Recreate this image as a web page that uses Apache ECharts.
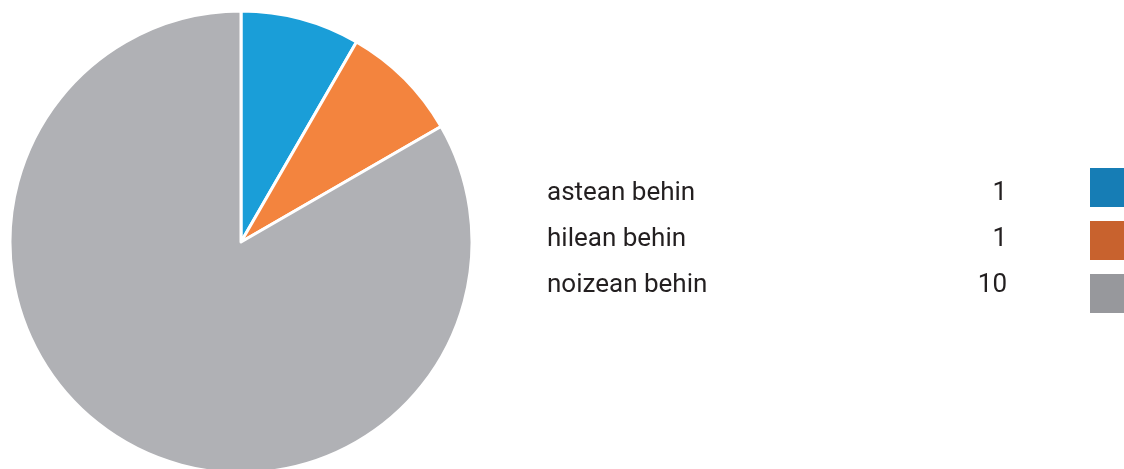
<!DOCTYPE html>
<html lang="en">
<head>
    <meta charset="UTF-8">
    <title>Pie</title>
    <script src="https://cdn.jsdelivr.net/npm/echarts@6/dist/echarts.min.js"></script>
    <style>
        * { padding: 0; margin: 0; }
        html, body { width: 1124px; height: 469px; background: #fff; overflow: hidden; }
        #pie { width: 1124px; height: 469px; }
    </style>
</head>
<body>
    <div id="pie"></div>
<script>
    var names = ['astean behin', 'hilean behin', 'noizean behin'];
    var values = [1, 1, 10];
    var sliceColors = ['#1a9ed8', '#f3843e', '#b0b1b5'];
    var boxColors = ['#167db5', '#c8622e', '#97989c'];

    var font = 'Roboto, "DejaVu Sans Condensed", sans-serif';
    var pie = echarts.init(document.getElementById('pie'));
    var option = {
        animation: false,
        legend: [{
            orient: 'vertical',
            left: 536,
            top: 175,
            itemWidth: 0,
            itemHeight: 0,
            itemGap: 20,
            icon: 'rect',
            selectedMode: false,
            data: names,
            formatter: function (name) {
                return '{n|' + name + '}{v|' + values[names.indexOf(name)] + '}';
            },
            textStyle: {
                fontFamily: font,
                fontSize: 26,
                color: '#231f20',
                rich: {
                    n: { width: 400, fontFamily: font, fontSize: 26, lineHeight: 30, color: '#231f20' },
                    v: { width: 60, align: 'right', fontFamily: font, fontSize: 26, lineHeight: 30, color: '#231f20' }
                }
            }
        }, {
            orient: 'vertical',
            left: 1083,
            top: 161,
            itemWidth: 36,
            itemHeight: 41,
            itemGap: 10,
            icon: 'rect',
            selectedMode: false,
            formatter: function () { return ''; },
            data: names.map(function (n, i) {
                return { name: n, itemStyle: { color: boxColors[i] } };
            })
        }],
        series: [{
            type: 'pie',
            center: [241, 242],
            radius: 231,
            startAngle: 90,
            clockwise: true,
            label: { show: false },
            labelLine: { show: false },
            emphasis: { disabled: true },
            itemStyle: { borderColor: '#fff', borderWidth: 3 },
            data: names.map(function (n, i) {
                return { name: n, value: values[i], itemStyle: { color: sliceColors[i] } };
            })
        }]
    };
    pie.setOption(option);
</script>
</body>
</html>
